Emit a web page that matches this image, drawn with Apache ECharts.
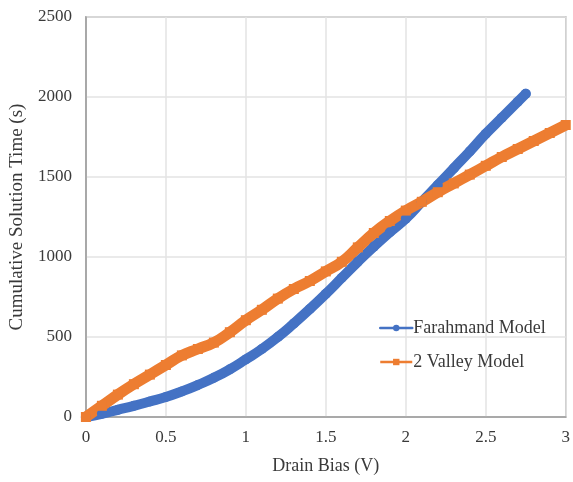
<!DOCTYPE html>
<html>
<head>
<meta charset="utf-8">
<script src="https://cdn.jsdelivr.net/npm/echarts@6/dist/echarts.min.js"></script>
<style>
    html, body {margin: 0; padding: 0; background: #fff;}
    #main {width: 573px; height: 482px;}
</style>
</head>
<body>
<div id="main"></div>
<script>
// 数据：漏极偏压 (V) 与累计求解时间 (s)
var farahmandBias = [0, 0.1, 0.2, 0.3, 0.4, 0.5, 0.6, 0.7, 0.8, 0.9, 1.0, 1.1, 1.2, 1.3, 1.4,
    1.5, 1.6, 1.7, 1.8, 1.9, 2.0, 2.1, 2.2, 2.3, 2.4, 2.5, 2.6, 2.7, 2.75];
var farahmandTime = [0, 20, 45, 70, 97, 125, 160, 200, 245, 298, 360, 425, 500, 585, 675,
    770, 870, 970, 1065, 1155, 1240, 1345, 1450, 1555, 1660, 1770, 1870, 1970, 2020];

var valleyBias = [0, 0.1, 0.2, 0.3, 0.4, 0.5, 0.6, 0.7, 0.8, 0.9, 1.0, 1.1, 1.2, 1.3, 1.4, 1.5,
    1.6, 1.7, 1.8, 1.9, 2.0, 2.1, 2.2, 2.3, 2.4, 2.5, 2.6, 2.7, 2.8, 2.9, 3.0];
var valleyTime = [0, 70, 140, 205, 265, 325, 385, 425, 465, 530, 605, 670, 740, 800, 850, 910,
    970, 1060, 1150, 1225, 1290, 1345, 1405, 1460, 1515, 1570, 1625, 1675, 1725, 1775, 1825];

var seriesNames = ['Farahmand Model', '2 Valley Model'];

function pairs(xs, ys) {
    var out = [];
    for (var i = 0; i < xs.length; i++) {
        out.push([xs[i], ys[i]]);
    }
    return out;
}

var font = 'Liberation Serif';
var textColor = '#3a3a3a';
var myChart = echarts.init(document.getElementById('main'));
myChart.setOption({
    animation: false,
    grid: {
        left: 83,
        right: 4,
        top: 17,
        bottom: 65,
        show: true,
        borderColor: '#9a9a9a',
        borderWidth: 1.5
    },
    legend: {
        orient: 'vertical',
        left: 374,
        top: 314,
        itemWidth: 32,
        itemHeight: 8,
        itemGap: 16,
        data: seriesNames,
        lineStyle: {width: 2.5},
        textStyle: {fontFamily: font, fontSize: 18, color: textColor, padding: [0, 0, 0, -4]}
    },
    xAxis: {
        type: 'value',
        min: 0,
        max: 3,
        interval: 0.5,
        name: 'Drain Bias (V)',
        nameLocation: 'middle',
        nameGap: 40,
        nameTextStyle: {fontFamily: font, fontSize: 18, color: textColor},
        axisLine: {show: true, lineStyle: {color: '#9a9a9a', width: 1.5}},
        axisTick: {show: false},
        axisLabel: {fontFamily: font, fontSize: 17, color: textColor, margin: 12},
        splitLine: {show: true, lineStyle: {color: '#e3e3e3', width: 1.5}}
    },
    yAxis: {
        type: 'value',
        min: 0,
        max: 2500,
        interval: 500,
        name: 'Cumulative Solution Time (s)',
        nameLocation: 'middle',
        nameGap: 58,
        nameTextStyle: {fontFamily: font, fontSize: 19, color: textColor},
        axisLine: {show: true, lineStyle: {color: '#9a9a9a', width: 1.5}},
        axisTick: {show: false},
        axisLabel: {
            fontFamily: font, fontSize: 17, color: textColor, margin: 14,
            formatter: function (v) {
                return String(v);
            }
        },
        splitLine: {show: true, lineStyle: {color: '#e3e3e3', width: 1.5}}
    },
    series: [{
        name: seriesNames[0],
        type: 'line',
        smooth: true,
        symbol: 'circle',
        symbolSize: 10,
        color: '#4472C4',
        lineStyle: {width: 10, cap: 'round'},
        data: pairs(farahmandBias, farahmandTime)
    }, {
        name: seriesNames[1],
        type: 'line',
        smooth: true,
        symbol: 'rect',
        symbolSize: 10,
        color: '#ED7D31',
        lineStyle: {width: 11},
        data: pairs(valleyBias, valleyTime)
    }]
});
</script>
</body>
</html>
